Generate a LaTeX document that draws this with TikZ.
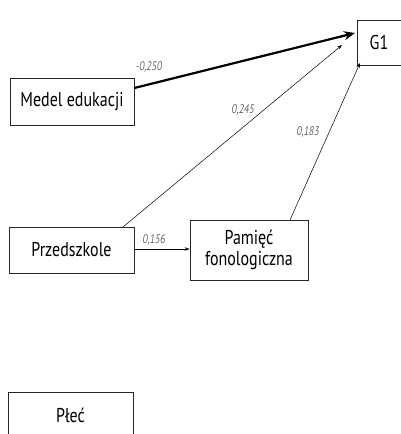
\documentclass[tikz,border=0pt]{standalone}
\usepackage{fontspec}
\setmainfont{PT Sans}[FakeStretch=0.8]
\usetikzlibrary{arrows.meta,shadows}
\begin{document}
\begin{tikzpicture}[x=1pt,y=-1pt,
  box/.style={draw=black!85,line width=0.8pt,fill=white,align=center,font=\fontsize{20}{21}\selectfont,inner sep=0pt,
     drop shadow={shadow xshift=1pt,shadow yshift=-1pt,opacity=0.6,fill=black!60}},
  coef/.style={font=\itshape\fontsize{12.5}{14}\selectfont,text=black!60,inner sep=1pt},
  arr/.style={line width=0.5pt,-{Stealth[length=5pt,width=3.5pt]}},
  thickarr/.style={line width=2.2pt,-{Stealth[length=11pt,width=9pt]}}]
\useasboundingbox (0,0) rectangle (401,434);
\node[box,minimum width=124pt,minimum height=47pt] (med) at (72,101.5) {Medel edukacji};
\node[box,minimum width=125pt,minimum height=46pt] (prz) at (71.5,250) {Przedszkole};
\node[box,minimum width=118pt,minimum height=60pt] (pam) at (249,250) {Pamięć\\fonologiczna};
\node[box,minimum width=44pt,minimum height=45pt] (g1) at (379,42.5) {G1};
\node[box,minimum width=125pt,minimum height=46pt] (ple) at (70.5,415) {Płeć};
\coordinate (t1) at (355,33);
\coordinate (t2) at (342,45);
\coordinate (t3) at (360,63);
\draw[thickarr] (med.east |- 0,88) -- (t1);
\draw[arr] (123,227) -- (t2);
\draw[arr] (290,220) -- (t3);
\draw[arr] (prz.east |- 0,249) -- (pam.west |- 0,249);
\node[coef] at (149,67) {-0,250};
\node[coef] at (243,110) {0,245};
\node[coef] at (308,132) {0,183};
\node[coef] at (154,240) {0,156};
\end{tikzpicture}
\end{document}
